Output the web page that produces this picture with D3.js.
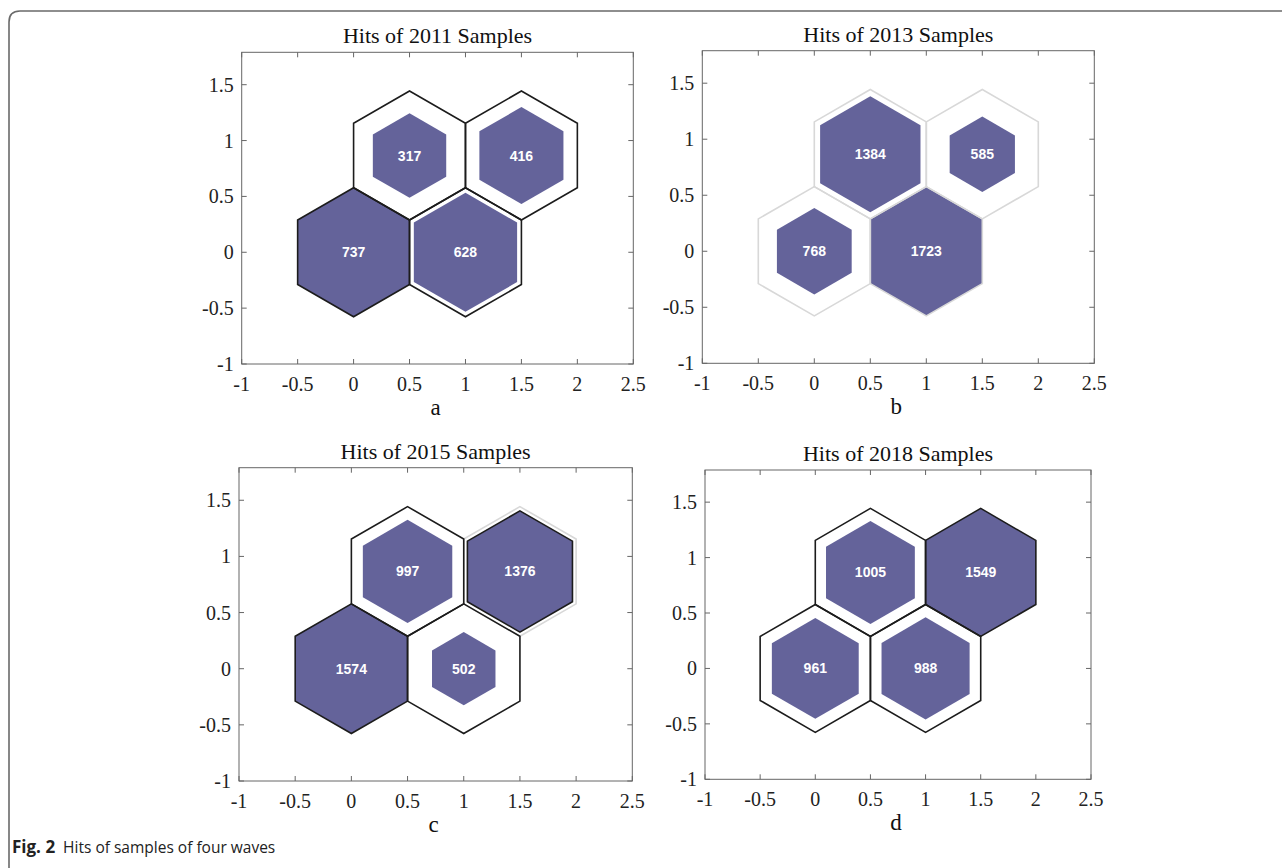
<!DOCTYPE html>
<html>
<head>
<meta charset="utf-8">
<script src="https://cdn.jsdelivr.net/npm/d3@7"></script>
<style>
  html, body { margin: 0; padding: 0; background: #fff; }
  svg { display: block; }
</style>
</head>
<body>
<svg id="chart" width="1282" height="868"></svg>
<script>
// ---------------- data ----------------
const panelTitles = ["Hits of 2011 Samples", "Hits of 2013 Samples", "Hits of 2015 Samples", "Hits of 2018 Samples"];
const panelLetters = ["a", "b", "c", "d"];
// neuron (SOM node) positions of the 2x2 hexagonal topology
const neuronX = [0, 1, 0.5, 1.5];
const neuronY = [0, 0, 0.866, 0.866];
// hits per neuron, one list per wave
const hits2011 = [737, 628, 317, 416];
const hits2013 = [768, 1723, 1384, 585];
const hits2015 = [1574, 502, 997, 1376];
const hits2018 = [961, 988, 1005, 1549];
const xTicks = [-1, -0.5, 0, 0.5, 1, 1.5, 2, 2.5];
const yTicks = [-1, -0.5, 0, 0.5, 1, 1.5];
const captionBold = "Fig. 2";
const captionText = "Hits of samples of four waves";

// ---------------- styles / layout ----------------
const hitsByPanel = [hits2011, hits2013, hits2015, hits2018];
const DARK = "#1c1c1c", LIGHT = "#d8d8d8";
const cellEdge = [
  [DARK, DARK, DARK, DARK],
  [LIGHT, LIGHT, LIGHT, LIGHT],
  [DARK, DARK, DARK, LIGHT],
  [DARK, DARK, DARK, DARK]
];
const innerEdge = [
  [null, null, null, null],
  [null, null, null, null],
  [null, null, null, DARK],
  [null, null, null, null]
];
const boxes = [
  {l: 241.7, r: 633.3, t: 52.3, b: 364},
  {l: 702.3, r: 1094.3, t: 50.7, b: 363.3},
  {l: 239, r: 632.3, t: 467.7, b: 781},
  {l: 705, r: 1091, t: 470, b: 779.3}
];
const FILL = "#64639a";
const SERIF = "'Liberation Serif', 'Times New Roman', serif";
const SANS = "'Liberation Sans', Arial, sans-serif";

const svg = d3.select("#chart");

// outer figure frame
svg.append("path")
  .attr("d", "M9,868 L9,22 Q9,11 20,11 L1282,11")
  .attr("fill", "none").attr("stroke", "#6a6a6a").attr("stroke-width", 1.6);

const R = 1 / Math.sqrt(3);
const angles = d3.range(6).map(i => Math.PI / 2 - i * Math.PI / 3);

boxes.forEach((bx, p) => {
  const x = d3.scaleLinear().domain([-1, 2.5]).range([bx.l, bx.r]);
  const y = d3.scaleLinear().domain([-1, 1.79]).range([bx.b, bx.t]);
  const g = svg.append("g");
  const hits = hitsByPanel[p];
  const maxHits = d3.max(hits);

  const hexPath = (cx, cy, s) => {
    const pts = angles.map(a => [x(cx + R * s * Math.cos(a)), y(cy + R * s * Math.sin(a))]);
    return d3.line()(pts) + "Z";
  };

  // axes box
  g.append("rect")
    .attr("x", bx.l).attr("y", bx.t)
    .attr("width", bx.r - bx.l).attr("height", bx.b - bx.t)
    .attr("fill", "#fff").attr("stroke", "#666").attr("stroke-width", 1);

  // ticks (inside, all four sides)
  const tl = 5;
  xTicks.forEach(v => {
    g.append("line").attr("x1", x(v)).attr("x2", x(v)).attr("y1", bx.b).attr("y2", bx.b - tl)
      .attr("stroke", "#666");
    g.append("line").attr("x1", x(v)).attr("x2", x(v)).attr("y1", bx.t).attr("y2", bx.t + tl)
      .attr("stroke", "#666");
    g.append("text").attr("x", x(v)).attr("y", bx.b + 27)
      .attr("text-anchor", "middle").attr("font-family", SERIF).attr("font-size", 20)
      .attr("fill", "#222").text(v);
  });
  yTicks.forEach(v => {
    g.append("line").attr("x1", bx.l).attr("x2", bx.l + tl).attr("y1", y(v)).attr("y2", y(v))
      .attr("stroke", "#666");
    g.append("line").attr("x1", bx.r).attr("x2", bx.r - tl).attr("y1", y(v)).attr("y2", y(v))
      .attr("stroke", "#666");
    g.append("text").attr("x", bx.l - 8).attr("y", y(v) + 7)
      .attr("text-anchor", "end").attr("font-family", SERIF).attr("font-size", 20)
      .attr("fill", "#222").text(v);
  });

  // inner hit patches
  hits.forEach((h, i) => {
    const s = Math.sqrt(h / maxHits);
    g.append("path").attr("d", hexPath(neuronX[i], neuronY[i], s))
      .attr("fill", FILL).attr("stroke", "none");
  });
  // cell outlines: light first, dark on top
  [LIGHT, DARK].forEach(col => {
    hits.forEach((h, i) => {
      if (cellEdge[p][i] !== col) return;
      g.append("path").attr("d", hexPath(neuronX[i], neuronY[i], 1))
        .attr("fill", "none").attr("stroke", col).attr("stroke-width", 1.6)
        .attr("stroke-linejoin", "miter");
    });
  });
  hits.forEach((h, i) => {
    if (!innerEdge[p][i]) return;
    const s = Math.sqrt(h / maxHits);
    g.append("path").attr("d", hexPath(neuronX[i], neuronY[i], s))
      .attr("fill", "none").attr("stroke", innerEdge[p][i]).attr("stroke-width", 1.6);
  });
  // hit labels
  hits.forEach((h, i) => {
    g.append("text").attr("x", x(neuronX[i])).attr("y", y(neuronY[i]) + 5)
      .attr("text-anchor", "middle").attr("font-family", SANS).attr("font-weight", "bold")
      .attr("font-size", 14).attr("fill", "#fff").text(h);
  });

  // title
  const cx = (bx.l + bx.r) / 2;
  g.append("text").attr("x", cx).attr("y", bx.t - 9)
    .attr("text-anchor", "middle").attr("font-family", SERIF).attr("font-size", 22)
    .attr("fill", "#111").text(panelTitles[p]);
  // panel letter
  g.append("text").attr("x", cx - 2).attr("y", bx.b + 51)
    .attr("text-anchor", "middle").attr("font-family", SERIF).attr("font-size", 23)
    .attr("fill", "#111").text(panelLetters[p]);
});

// caption
const cap = svg.append("text").attr("x", 12).attr("y", 853)
  .attr("font-family", "'Open Sans', 'Noto Sans', sans-serif").attr("fill", "#222");
cap.append("tspan").attr("font-weight", "bold").attr("font-size", 17).text(captionBold);
cap.append("tspan").attr("dx", 8).attr("font-size", 15.5).text(captionText);
</script>
</body>
</html>
